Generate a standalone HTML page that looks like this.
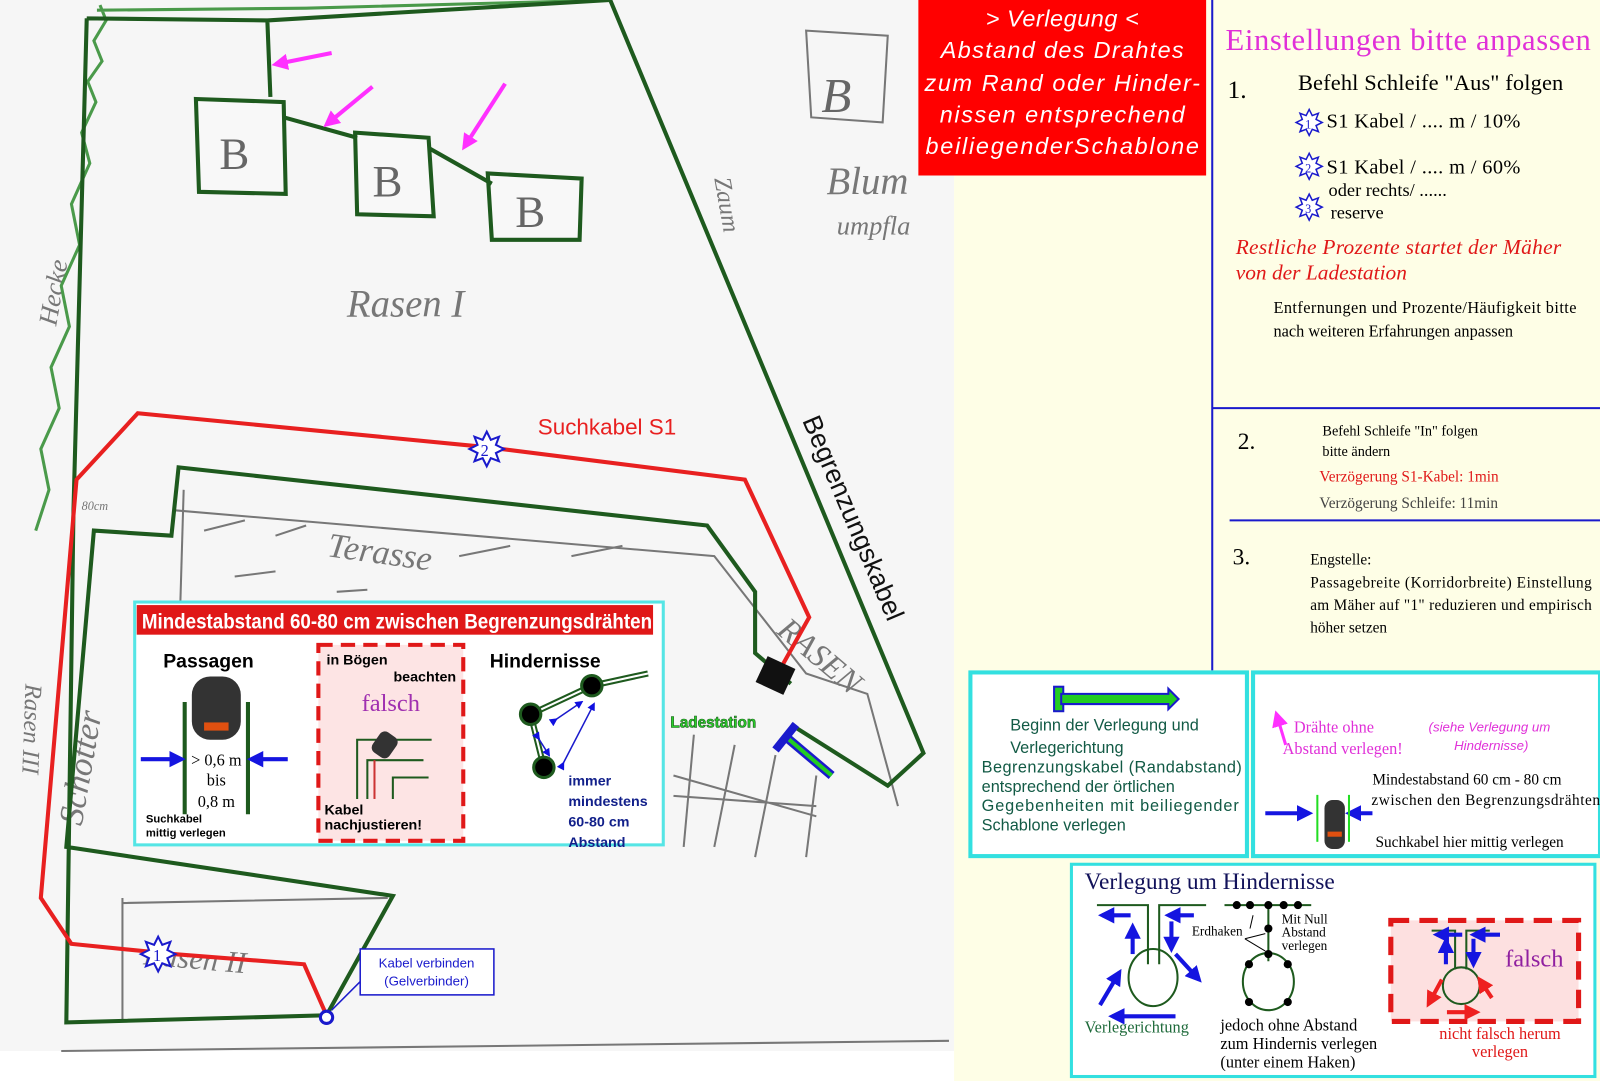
<!DOCTYPE html>
<html><head><meta charset="utf-8"><style>
body{margin:0;width:1600px;height:1081px;overflow:hidden;background:#fff}
svg{display:block}
</style></head><body>
<svg width="1600" height="1081" viewBox="0 0 1568 1059.4" preserveAspectRatio="none" xmlns="http://www.w3.org/2000/svg" font-family="Liberation Sans, sans-serif">
<defs>
<marker id="mb" markerWidth="8" markerHeight="8" refX="6" refY="4" orient="auto" markerUnits="userSpaceOnUse"><path d="M0,0 L8,4 L0,8z" fill="#1010e0"/></marker>
<marker id="mm" markerWidth="16" markerHeight="16" refX="12" refY="8" orient="auto" markerUnits="userSpaceOnUse"><path d="M0,0 L16,8 L0,16z" fill="#ff30ff"/></marker>
<marker id="mB" markerWidth="16" markerHeight="16" refX="12" refY="8" orient="auto" markerUnits="userSpaceOnUse"><path d="M0,0 L16,8 L0,16z" fill="#1515e0"/></marker>
<marker id="mR" markerWidth="16" markerHeight="16" refX="12" refY="8" orient="auto" markerUnits="userSpaceOnUse"><path d="M0,0 L16,8 L0,16z" fill="#ee2020"/></marker>
<g id="star"><polygon points="0,-17 4,-9 12,-12 9,-4 17,0 9,4 12,12 4,9 0,17 -4,9 -12,12 -9,4 -17,0 -9,-4 -12,-12 -4,-9" fill="#fff" stroke="#1a1acc" stroke-width="2"/></g>
</defs>
<rect x="0" y="0" width="935" height="1060" fill="#f6f6f6"/>
<rect x="0" y="1030" width="935" height="30" fill="#fff"/>
<rect x="935" y="0" width="633" height="1060" fill="#fefee6"/>
<g fill="none" stroke="#777" stroke-width="2">
<path d="M60,1030 L930,1020"/>
<path d="M790,30 L870,35 L865,120 L795,115z"/>
<path d="M170,500 L700,545 L790,660 L850,680 L880,790"/>
<path d="M180,480 L170,820"/>
<path d="M200,520 L240,510 M270,525 L300,515 M450,545 L500,535 M560,545 L610,535 M230,565 L270,560 M330,580 L360,578"/>
<path d="M660,760 L800,800 M680,720 L670,830 M720,730 L700,830 M760,740 L740,840 M800,760 L790,840 M660,780 L800,790"/>
<path d="M120,885 L380,880 M120,1000 L120,880"/>
</g>
<g fill="#777" font-family="Liberation Serif, serif" font-style="italic">
<text x="340" y="310" font-size="38">Rasen I</text>
<text x="320" y="545" font-size="34" transform="rotate(8 320 545)">Terasse</text>
<text x="810" y="190" font-size="38">Blum</text>
<text x="820" y="230" font-size="26">umpfla</text>
<text x="140" y="945" font-size="30" transform="rotate(5 140 945)">Rasen II</text>
<text x="80" y="810" font-size="34" transform="rotate(-80 80 810)">Schotter</text>
<text x="25" y="670" font-size="24" transform="rotate(92 25 670)">Rasen III</text>
<text x="55" y="320" font-size="26" transform="rotate(-80 55 320)">Hecke</text>
<text x="700" y="175" font-size="24" transform="rotate(80 700 175)">Zaum</text>
<text x="760" y="620" font-size="32" transform="rotate(40 760 620)">RASEN</text>
<text x="805" y="110" font-size="48" fill="#666">B</text>
<text x="80" y="500" font-size="12">80cm</text>
</g>
<path d="M98,5 L104,20 L92,40 L100,60 L86,80 L94,100 L80,130 L88,160 L70,200 L78,240 L60,280 L68,320 L50,360 L58,400 L40,440 L48,480 L35,520 M95,10 L300,8 L600,0" fill="none" stroke="#4a9a4a" stroke-width="3"/>
<g fill="#f8f8f8" stroke="#1e5a1e" stroke-width="4">
<path d="M192,97 L278,100 L280,190 L195,188z"/>
<path d="M348,130 L420,135 L425,212 L350,210z"/>
<path d="M478,170 L570,175 L568,235 L482,235z"/>
</g>
<g fill="#666" font-size="44" font-family="Liberation Serif, serif"><text x="215" y="165">B</text><text x="365" y="192">B</text><text x="505" y="222">B</text></g>
<path d="M85,18 L262,20 L265,95 M262,20 L598,0 L905,738 L870,770 L775,710 M775,670 L740,640 L740,580 L693,515 L175,458 L168,525 L92,520 L65,830 L385,878 L320,995 L65,1002 L72,500 L85,18 M278,115 L350,135 M420,145 L482,180" fill="none" stroke="#1e5a1e" stroke-width="4"/>
<path d="M320,995 L298,945 L170,935 L70,925 L40,880 L75,470 L135,405 L475,438 L730,470 L793,605 L765,655" fill="none" stroke="#e82020" stroke-width="4"/>
<rect x="745" y="648" width="30" height="28" fill="#111" transform="rotate(25 760 662)"/>
<circle cx="320" cy="997" r="6" fill="#fff" stroke="#1a1acc" stroke-width="3"/>
<use href="#star" x="155" y="935"/><text x="150" y="942" font-size="16" fill="#1a1acc" font-family="Liberation Serif, serif">1</text>
<use href="#star" x="477" y="440"/><text x="471" y="447" font-size="16" fill="#1a1acc" font-family="Liberation Serif, serif">2</text>
<text x="527" y="426" font-size="22" fill="#e82020">Suchkabel S1</text>
<text x="786" y="412" font-size="26" fill="#111" transform="rotate(67 786 412)">Begrenzungskabel</text>
<g stroke="#ff30ff" stroke-width="4" marker-end="url(#mm)"><line x1="325" y1="52" x2="270" y2="63"/><line x1="365" y1="85" x2="320" y2="122"/><line x1="495" y1="82" x2="455" y2="144"/></g>
<text x="657" y="713" font-size="15" font-weight="bold" fill="#2ad02a" stroke="#1a5a1a" stroke-width="0.6">Ladestation</text>
<path d="M770,722 L815,760" stroke="#1a1acc" stroke-width="9"/><path d="M770,722 L815,760" stroke="#22cc22" stroke-width="4"/>
<path d="M760,735 L780,710" stroke="#1a1acc" stroke-width="8"/>
<line x1="325" y1="990" x2="355" y2="960" stroke="#1a1acc" stroke-width="1.5"/>
<rect x="353" y="930" width="131" height="45" fill="#fff" stroke="#1a1acc" stroke-width="1.5"/>
<text x="418" y="948" font-size="13" fill="#1a1acc" text-anchor="middle">Kabel verbinden</text>
<text x="418" y="966" font-size="13" fill="#1a1acc" text-anchor="middle">(Gelverbinder)</text>
<rect x="132" y="590" width="518" height="238" fill="#fff" stroke="#55e5e5" stroke-width="3"/>
<rect x="134" y="593" width="506" height="29" fill="#e01818"/>
<text x="139" y="616" font-size="21" font-weight="bold" fill="#fff" textLength="500" lengthAdjust="spacingAndGlyphs">Mindestabstand 60-80 cm zwischen Begrenzungsdrähten</text>
<text x="160" y="654" font-size="19" font-weight="bold">Passagen</text>
<line x1="181" y1="688" x2="181" y2="798" stroke="#1e5a1e" stroke-width="4"/>
<line x1="243" y1="688" x2="243" y2="798" stroke="#1e5a1e" stroke-width="4"/>
<rect x="188" y="663" width="48" height="62" rx="18" fill="#333"/><rect x="200" y="708" width="24" height="8" fill="#e05010"/>
<line x1="138" y1="744" x2="178" y2="744" stroke="#1515e0" stroke-width="4" marker-end="url(#mB)"/>
<line x1="282" y1="744" x2="246" y2="744" stroke="#1515e0" stroke-width="4" marker-end="url(#mB)"/>
<g font-family="Liberation Serif, serif" font-size="16" text-anchor="middle"><text x="212" y="750">&gt; 0,6 m</text><text x="212" y="770">bis</text><text x="212" y="791">0,8 m</text></g>
<text x="143" y="806" font-size="11" font-weight="bold">Suchkabel</text><text x="143" y="820" font-size="11" font-weight="bold">mittig verlegen</text>
<rect x="312" y="632" width="142" height="192" fill="#fde4e4" stroke="#e01818" stroke-width="4" stroke-dasharray="14 8"/>
<text x="320" y="651" font-size="14" font-weight="bold">in Bögen</text><text x="447" y="668" font-size="14" font-weight="bold" text-anchor="end">beachten</text>
<text x="383" y="697" font-size="24" fill="#a030b0" font-family="Liberation Serif, serif" text-anchor="middle">falsch</text>
<path d="M350,783 L350,725 L423,725 M360,783 L360,745 L415,745 M385,783 L385,762 L420,762" fill="none" stroke="#1e5a1e" stroke-width="2"/>
<path d="M367,783 L367,745" stroke="#c33" stroke-width="2"/>
<rect x="367" y="718" width="20" height="24" rx="6" fill="#333" transform="rotate(35 377 730)"/>
<text x="318" y="798" font-size="14" font-weight="bold">Kabel</text><text x="318" y="813" font-size="14" font-weight="bold">nachjustieren!</text>
<text x="480" y="654" font-size="19" font-weight="bold">Hindernisse</text>
<path d="M520,700 L580,672 L635,660 M520,700 L533,752" fill="none" stroke="#1e5a1e" stroke-width="6"/><path d="M520,700 L580,672 L635,660 M520,700 L533,752" fill="none" stroke="#fff" stroke-width="2"/>
<g fill="#000" stroke="#1e5a1e" stroke-width="3"><circle cx="520" cy="700" r="10"/><circle cx="580" cy="672" r="10"/><circle cx="533" cy="752" r="10"/></g>
<g stroke="#1a1acc" stroke-width="1.5" marker-end="url(#mb)" marker-start="url(#mb)"><line x1="545" y1="705" x2="570" y2="688"/><line x1="528" y1="724" x2="538" y2="740"/><line x1="552" y1="748" x2="582" y2="690"/></g>
<g fill="#12208a" font-size="14" font-weight="bold"><text x="557" y="770">immer</text><text x="557" y="790">mindestens</text><text x="557" y="810">60-80 cm</text><text x="557" y="830">Abstand</text></g>
<rect x="900" y="0" width="282" height="172" fill="#f00"/>
<g fill="#fff" font-size="23" font-style="italic" text-anchor="middle" lengthAdjust="spacingAndGlyphs"><text x="1041" y="26" textLength="150">&gt; Verlegung &lt;</text><text x="1041" y="57" textLength="238">Abstand des Drahtes</text><text x="1041" y="89" textLength="270">zum Rand oder Hinder-</text><text x="1041" y="120" textLength="240">nissen entsprechend</text><text x="1041" y="151" textLength="268">beiliegenderSchablone</text></g>
<g stroke="#1a1acc" stroke-width="2"><line x1="1188" y1="0" x2="1188" y2="657"/><line x1="1188" y1="400" x2="1568" y2="400"/><line x1="1205" y1="510" x2="1568" y2="510"/></g>
<g font-family="Liberation Serif, serif">
<text x="1201" y="49" font-size="30" fill="#e030d8" textLength="358">Einstellungen bitte anpassen</text>
<text x="1203" y="96" font-size="25">1.</text>
<text x="1272" y="88" font-size="22" textLength="260">Befehl Schleife "Aus" folgen</text>
<use href="#star" transform="translate(1283 120) scale(0.75) translate(-1283 -120)" x="1283" y="120"/><text x="1279" y="126" font-size="12" fill="#1a1acc">1</text>
<text x="1300" y="125" font-size="20" textLength="190">S1 Kabel / .... m / 10%</text>
<use href="#star" transform="translate(1283 163) scale(0.75) translate(-1283 -163)" x="1283" y="163"/><text x="1279" y="169" font-size="12" fill="#1a1acc">2</text>
<text x="1300" y="170" font-size="20" textLength="190">S1 Kabel / .... m / 60%</text>
<text x="1302" y="192" font-size="18">oder rechts/ ......</text>
<use href="#star" transform="translate(1283 203) scale(0.75) translate(-1283 -203)" x="1283" y="203"/><text x="1279" y="209" font-size="12" fill="#1a1acc">3</text>
<text x="1304" y="214" font-size="18">reserve</text>
<text x="1211" y="249" font-size="21" font-style="italic" fill="#e01818" textLength="319">Restliche Prozente  startet der Mäher</text>
<text x="1211" y="274" font-size="21" font-style="italic" fill="#e01818">von der Ladestation</text>
<text x="1248" y="307" font-size="16" textLength="297">Entfernungen und Prozente/Häufigkeit bitte</text>
<text x="1248" y="330" font-size="16">nach weiteren Erfahrungen anpassen</text>
<text x="1213" y="440" font-size="23">2.</text>
<text x="1296" y="427" font-size="14">Befehl Schleife "In" folgen</text>
<text x="1296" y="447" font-size="14">bitte ändern</text>
<text x="1293" y="472" font-size="15" fill="#e01818">Verzögerung S1-Kabel: 1min</text>
<text x="1293" y="498" font-size="15" fill="#444">Verzögerung Schleife: 11min</text>
<text x="1208" y="553" font-size="23">3.</text>
<text x="1284" y="553" font-size="15">Engstelle:</text>
<text x="1284" y="576" font-size="15" textLength="276">Passagebreite (Korridorbreite) Einstellung</text>
<text x="1284" y="598" font-size="15" textLength="276">am Mäher auf "1" reduzieren und empirisch</text>
<text x="1284" y="620" font-size="15">höher setzen</text>
</g>
<rect x="951" y="659" width="271" height="180" fill="#fff" stroke="#33e0e0" stroke-width="4"/>
<rect x="1033" y="673" width="9" height="24" fill="#22cc22" stroke="#1a1acc" stroke-width="2"/>
<path d="M1040,680 L1145,680 L1145,675 L1155,685 L1145,695 L1145,690 L1040,690z" fill="#22cc22" stroke="#1a1acc" stroke-width="2"/>
<g fill="#125a45" font-size="16"><text x="990" y="716">Beginn der Verlegung und</text><text x="990" y="738">Verlegerichtung</text><text x="962" y="757" textLength="255">Begrenzungskabel (Randabstand)</text><text x="962" y="776">entsprechend der örtlichen</text><text x="962" y="795" textLength="252">Gegebenheiten mit beiliegender</text><text x="962" y="814">Schablone verlegen</text></g>
<rect x="1228" y="659" width="340" height="180" fill="#fff" stroke="#33e0e0" stroke-width="4"/>
<line x1="1260" y1="730" x2="1251" y2="700" stroke="#ff30ff" stroke-width="3" marker-end="url(#mm)"/>
<g font-family="Liberation Serif, serif"><text x="1268" y="718" font-size="16" fill="#e030d8">Drähte ohne</text><text x="1257" y="739" font-size="16" fill="#e030d8">Abstand verlegen!</text>
<text x="1345" y="769" font-size="15">Mindestabstand 60 cm - 80 cm</text><text x="1344" y="789" font-size="15" textLength="224">zwischen den Begrenzungsdrähten</text><text x="1348" y="830" font-size="15">Suchkabel hier mittig verlegen</text></g>
<text x="1400" y="717" font-size="13" font-style="italic" fill="#e030d8">(siehe Verlegung um</text><text x="1425" y="735" font-size="13" font-style="italic" fill="#e030d8">Hindernisse)</text>
<line x1="1240" y1="797" x2="1283" y2="797" stroke="#1515e0" stroke-width="4" marker-end="url(#mB)"/>
<line x1="1345" y1="797" x2="1322" y2="797" stroke="#1515e0" stroke-width="4" marker-end="url(#mB)"/>
<line x1="1291" y1="779" x2="1291" y2="825" stroke="#22dd22" stroke-width="2"/><line x1="1322" y1="779" x2="1322" y2="825" stroke="#22dd22" stroke-width="2"/>
<rect x="1298" y="784" width="20" height="48" rx="8" fill="#333"/><rect x="1301" y="815" width="14" height="5" fill="#e05010"/>
<rect x="1050" y="847" width="513" height="208" fill="#fff" stroke="#33e0e0" stroke-width="3"/>
<text x="1063" y="871" font-size="23" font-family="Liberation Serif, serif" fill="#12125a">Verlegung um Hindernisse</text>
<g fill="none" stroke="#1e5a1e" stroke-width="2">
<path d="M1075,887 L1125,887 L1125,945 M1182,887 L1136,887 L1136,945"/><ellipse cx="1130" cy="958" rx="24" ry="28"/>
<path d="M1200,887 L1285,887 M1243,887 L1243,942"/><ellipse cx="1243" cy="962" rx="25" ry="28"/>
</g>
<g fill="#000"><circle cx="1212" cy="887" r="4"/><circle cx="1225" cy="887" r="4"/><circle cx="1243" cy="887" r="4"/><circle cx="1258" cy="887" r="4"/><circle cx="1272" cy="887" r="4"/><circle cx="1243" cy="910" r="4"/><circle cx="1243" cy="935" r="4"/><circle cx="1224" cy="945" r="4"/><circle cx="1262" cy="945" r="4"/><circle cx="1224" cy="982" r="4"/><circle cx="1262" cy="982" r="4"/></g>
<path d="M1228,897 L1225,910 M1220,920 L1240,915 M1220,920 L1240,932" stroke="#000" stroke-width="1" fill="none"/>
<g font-family="Liberation Serif, serif" font-size="13"><text x="1168" y="917">Erdhaken</text><text x="1256" y="905">Mit Null</text><text x="1256" y="918">Abstand</text><text x="1256" y="931">verlegen</text></g>
<g stroke="#1515e0" stroke-width="4" marker-end="url(#mB)">
<line x1="1108" y1="897" x2="1080" y2="897"/><line x1="1170" y1="897" x2="1145" y2="897"/><line x1="1110" y1="935" x2="1110" y2="908"/><line x1="1148" y1="903" x2="1148" y2="930"/><line x1="1078" y1="985" x2="1097" y2="953"/><line x1="1152" y1="935" x2="1175" y2="960"/><line x1="1152" y1="996" x2="1090" y2="996"/></g>
<rect x="1363" y="902" width="184" height="99" fill="#fde0e0" stroke="#e01818" stroke-width="5" stroke-dasharray="18 10"/>
<g fill="none" stroke="#1e5a1e" stroke-width="2"><path d="M1403,912 L1426,912 L1426,950 M1437,950 L1437,912 L1460,912"/><ellipse cx="1432" cy="966" rx="18" ry="18"/></g>
<g stroke="#1515e0" stroke-width="4" marker-end="url(#mB)"><line x1="1433" y1="916" x2="1408" y2="916"/><line x1="1470" y1="916" x2="1444" y2="916"/><line x1="1417" y1="945" x2="1417" y2="922"/><line x1="1444" y1="920" x2="1444" y2="945"/></g>
<g stroke="#ee2020" stroke-width="4" marker-end="url(#mR)"><line x1="1413" y1="960" x2="1400" y2="984"/><line x1="1462" y1="978" x2="1450" y2="960"/><line x1="1418" y1="992" x2="1447" y2="992"/></g>
<text x="1475" y="947" font-size="24" font-family="Liberation Serif, serif" fill="#9020a0">falsch</text>
<g font-family="Liberation Serif, serif" font-size="16"><text x="1063" y="1012" fill="#1e6a3a">Verlegerichtung</text><text x="1196" y="1010">jedoch ohne Abstand</text><text x="1196" y="1028">zum Hindernis verlegen</text><text x="1196" y="1046">(unter einem Haken)</text>
<text x="1470" y="1018" fill="#e01818" text-anchor="middle">nicht falsch herum</text><text x="1470" y="1036" fill="#e01818" text-anchor="middle">verlegen</text></g>
</svg>
</body></html>
